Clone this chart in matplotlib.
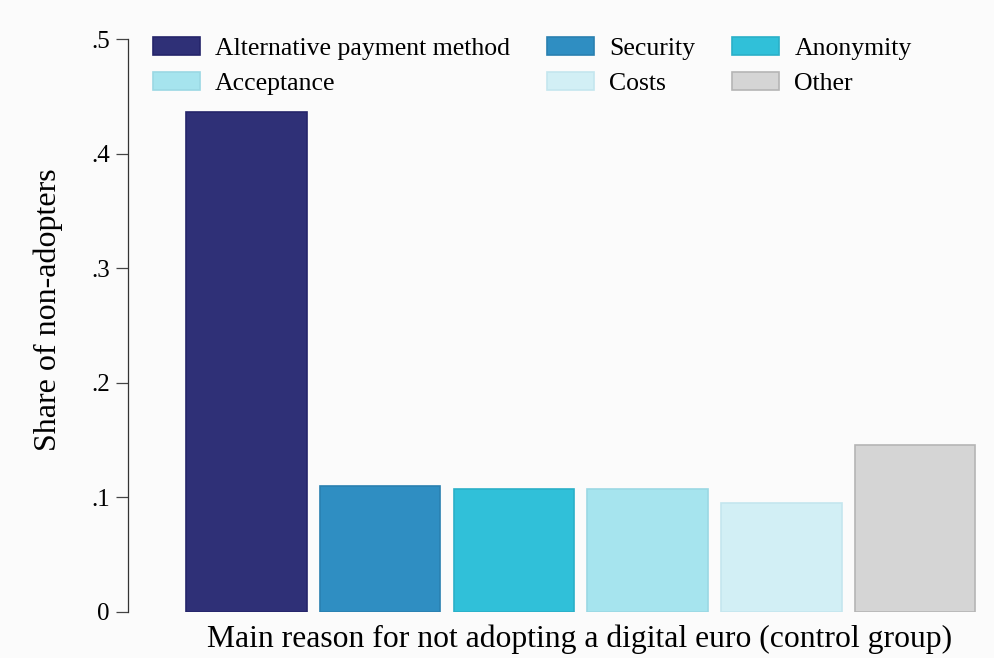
import matplotlib.pyplot as plt

# data
reasons = ['Alternative payment method', 'Security', 'Anonymity',
           'Acceptance', 'Costs', 'Other']
shares = [0.436, 0.110, 0.107, 0.107, 0.095, 0.146]
colors = ['#2f3077', '#2f8ec2', '#30c0d9', '#a6e4ee', '#d2eff5', '#d5d5d5']
edges = ['#25256a', '#2a80b0', '#2bb0c8', '#9ad8e4', '#c4e6ee', '#b5b5b5']
yticks = [0, 0.1, 0.2, 0.3, 0.4, 0.5]
ytick_labels = ['0', '.1', '.2', '.3', '.4', '.5']

plt.rcParams['font.family'] = ['Liberation Serif', 'DejaVu Serif']

fig = plt.figure(figsize=(9.94, 6.58), dpi=100, facecolor='#fbfbfb')
ax = fig.add_axes([128 / 994, 1 - 612 / 658, (982 - 128) / 994, (612 - 39) / 658])
ax.set_facecolor('#fbfbfb')

bars = []
for i, (r, v) in enumerate(zip(reasons, shares)):
    b = ax.bar(i, v, width=0.9, color=colors[i], edgecolor=edges[i],
               linewidth=1.2, label=r)
    bars.append(b)

ax.set_xlim(-0.886, 5.5)
ax.set_ylim(0, 0.5)
ax.set_yticks(yticks)
ax.set_yticklabels(ytick_labels, fontsize=18)
ax.tick_params(axis='y', length=9, width=0.9, color='#444444', pad=4)
ax.set_xticks([])
for s in ['top', 'right', 'bottom']:
    ax.spines[s].set_visible(False)
ax.spines['left'].set_color('#333333')
ax.spines['left'].set_linewidth(0.9)

ax.set_ylabel('Share of non-adopters', fontsize=23, va='center')
ax.yaxis.set_label_coords(-0.093, 0.527)
ax.set_xlabel('Main reason for not adopting a digital euro (control group)',
              fontsize=22.8, va='baseline')
ax.xaxis.set_label_coords(0.529, -0.061)

# row-major order in the reference -> reorder for column-filled legend
order = [0, 3, 1, 4, 2, 5]
ax.legend([bars[k] for k in order], [reasons[k] for k in order], ncol=3,
          loc='upper left', bbox_to_anchor=(153 / 994, 1 - 36.5 / 658),
          bbox_transform=fig.transFigure, frameon=False, borderpad=0,
          borderaxespad=0, fontsize=18.5, handlelength=1.83,
          handleheight=0.76, columnspacing=1.45, handletextpad=0.58,
          labelspacing=0.45)

fig.savefig('out.png', dpi=100, facecolor=fig.get_facecolor())
